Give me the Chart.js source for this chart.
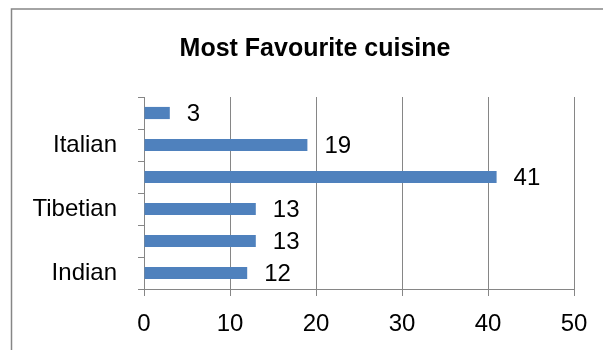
<!DOCTYPE html>
<html>
<head>
<meta charset="utf-8">
<script src="https://cdn.jsdelivr.net/npm/chart.js@4.4.1/dist/chart.umd.min.js"></script>
<style>
  html, body { margin: 0; padding: 0; background: #fff; overflow: hidden; }
  #wrap { width: 628px; height: 350px; }
</style>
</head>
<body>
<div id="wrap"><canvas id="chart" width="628" height="350"></canvas></div>
<script>
// Categories listed bottom to top, as in the picture (only every other label is shown)
const categories = ["Indian", "", "Tibetian", "", "Italian", ""];
const votes = [12, 13, 13, 41, 19, 3];
const xTicks = [0, 10, 20, 30, 40, 50];
const chartTitle = "Most Favourite cuisine";

const gridGray = "#868686";
const barBlue = "#4F81BD";
const fontFamily = "'Liberation Sans', Arial, sans-serif";

// Outer frame and title (the chart is cropped on the right, so the title sits off-centre)
const framePlugin = {
    id: "frame",
    beforeDraw(chart) {
        const ctx = chart.ctx;
        ctx.save();
        ctx.strokeStyle = gridGray;
        ctx.lineWidth = 1.5;
        ctx.strokeRect(11.5, 9, 700, 400);
        ctx.fillStyle = "#000";
        ctx.font = "bold 25px " + fontFamily;
        ctx.textAlign = "center";
        ctx.textBaseline = "alphabetic";
        ctx.fillText(chartTitle, 315, 56);
        ctx.restore();
    },
};

// Value labels to the right of each bar
const valueLabels = {
    id: "valueLabels",
    afterDatasetsDraw(chart) {
        const ctx = chart.ctx;
        const meta = chart.getDatasetMeta(0);
        ctx.save();
        ctx.font = "24px " + fontFamily;
        ctx.fillStyle = "#000";
        ctx.textAlign = "left";
        ctx.textBaseline = "middle";
        meta.data.forEach((bar, i) => {
            ctx.fillText(String(chart.data.datasets[0].data[i]), bar.x + 17, bar.y + 1);
        });
        ctx.restore();
    },
};

new Chart(document.getElementById("chart"), {
    type: "bar",
    plugins: [framePlugin, valueLabels],
    data: {
        labels: categories,
        datasets: [
            {
                data: votes,
                backgroundColor: barBlue,
                borderWidth: 0,
                barPercentage: 0.38,
                categoryPercentage: 1.0,
            },
        ],
    },
    options: {
        indexAxis: "y",
        responsive: false,
        animation: false,
        layout: { padding: { left: 0, right: 54, top: 97, bottom: 0 } },
        plugins: {
            legend: { display: false },
            tooltip: { enabled: false },
            title: { display: false },
        },
        scales: {
            x: {
                min: 0,
                max: 50,
                afterBuildTicks: (scale) => {
                    scale.ticks = xTicks.map((v) => ({ value: v }));
                },
                afterFit: (scale) => {
                    scale.height = 61;
                },
                grid: {
                    color: gridGray,
                    lineWidth: 1,
                    tickLength: 7,
                    drawTicks: true,
                },
                border: { display: true, color: gridGray, width: 1 },
                ticks: {
                    color: "#000",
                    padding: 14,
                    font: { family: fontFamily, size: 24 },
                },
            },
            y: {
                reverse: true,
                afterFit: (scale) => {
                    scale.width = 144;
                },
                grid: {
                    offset: true,
                    drawOnChartArea: false,
                    color: gridGray,
                    tickLength: 6,
                },
                border: { display: true, color: gridGray, width: 1 },
                ticks: {
                    color: "#000",
                    padding: 21,
                    autoSkip: false,
                    font: { family: fontFamily, size: 24 },
                },
            },
        },
    },
});
</script>
</body>
</html>
